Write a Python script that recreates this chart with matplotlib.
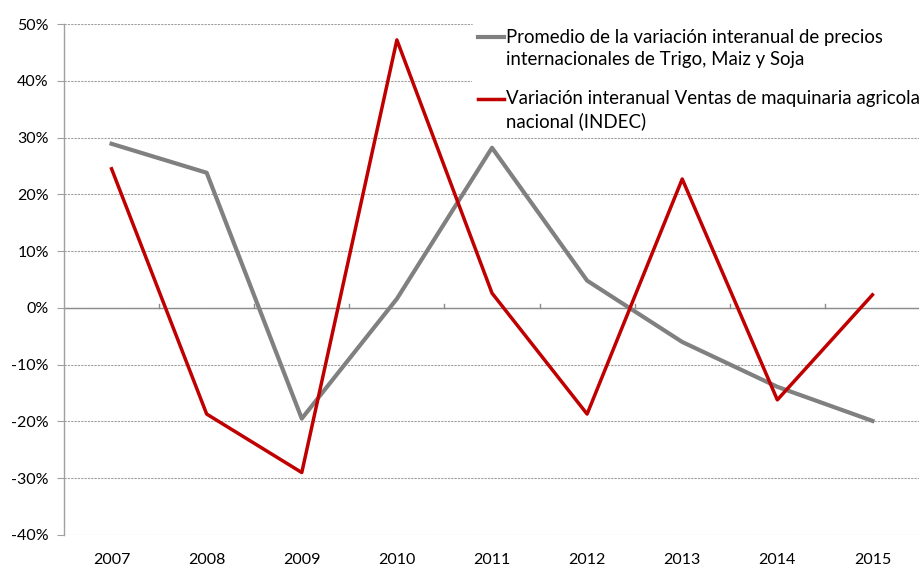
import matplotlib.pyplot as plt
import numpy as np
from matplotlib.ticker import FuncFormatter, FixedLocator
from matplotlib.legend_handler import HandlerLine2D
from matplotlib.lines import Line2D

plt.rcParams["font.family"] = ["Lato", "DejaVu Sans"]

years = ["2007", "2008", "2009", "2010", "2011", "2012", "2013", "2014", "2015"]
precios = [28.9, 23.8, -19.5, 1.6, 28.2, 4.8, -6.0, -13.9, -19.9]
maquinaria = [24.5, -18.7, -29.0, 47.2, 2.6, -18.7, 22.7, -16.2, 2.3]

label_precios = "Promedio de la variación interanual de precios\ninternacionales de Trigo, Maiz y Soja"
label_maq = "Variación interanual Ventas de maquinaria agricola\nnacional (INDEC)"


# legend line next to the first text line, like Excel does
class FirstLineHandler(HandlerLine2D):
    def create_artists(self, legend, orig_handle, xdescent, ydescent,
                       width, height, fontsize, trans):
        arts = super().create_artists(legend, orig_handle, xdescent, ydescent,
                                      width, height, fontsize, trans)
        for a in arts:
            a.set_ydata(np.asarray(a.get_ydata()) + 8.3)
        return arts


fig = plt.figure(figsize=(9.2, 5.72), dpi=100)
ax = fig.add_axes([64 / 920, 1 - 535 / 572, (920 - 64) / 920, (535 - 24) / 572])

x = np.arange(len(years))
ax.plot(x, precios, color="#808080", lw=3, label=label_precios, zorder=3)
ax.plot(x, maquinaria, color="#C00000", lw=2.5, label=label_maq, zorder=3)

ax.set_xlim(-0.5, len(years) - 0.5)
ax.set_ylim(-40, 50)
ax.set_yticks(np.arange(-40, 51, 10))
ax.yaxis.set_major_formatter(FuncFormatter(lambda v, p: "%d%%" % v))
ax.grid(axis="y", color="#A0A0A0", linestyle=(0, (2, 1)), lw=0.8)
ax.set_axisbelow(True)

for s in ["top", "right", "bottom"]:
    ax.spines[s].set_visible(False)
ax.spines["left"].set_color("#A0A0A0")
ax.spines["left"].set_linewidth(1)

# category axis sits on zero
ax.axhline(0, color="#8C8C8C", lw=1, zorder=2)
ax.xaxis.set_major_locator(FixedLocator(x))
ax.set_xticklabels(years)
ax.tick_params(axis="x", length=0, labelsize=11.5, pad=13, colors="black")
ax.tick_params(axis="y", length=5, color="#A0A0A0", labelsize=11.5, pad=6)
for b in np.arange(0.5, len(years) - 1, 1.0):
    ax.plot([b, b], [0, 0.7], color="#8C8C8C", lw=1, zorder=2)

leg = ax.legend(loc="upper left", frameon=True, fontsize=13.4,
                handlelength=1.4, handletextpad=0.15, labelspacing=1.15,
                borderaxespad=0, borderpad=0.3,
                handler_map={Line2D: FirstLineHandler()})
for t in leg.get_texts():
    t.set_linespacing(1.4)
leg.get_frame().set_edgecolor("none")
leg.get_frame().set_facecolor("white")
leg.get_frame().set_alpha(1)
leg.set_bbox_to_anchor((472 / 920, 1 - 23 / 572), transform=fig.transFigure)

fig.savefig("out.png", dpi=100)
